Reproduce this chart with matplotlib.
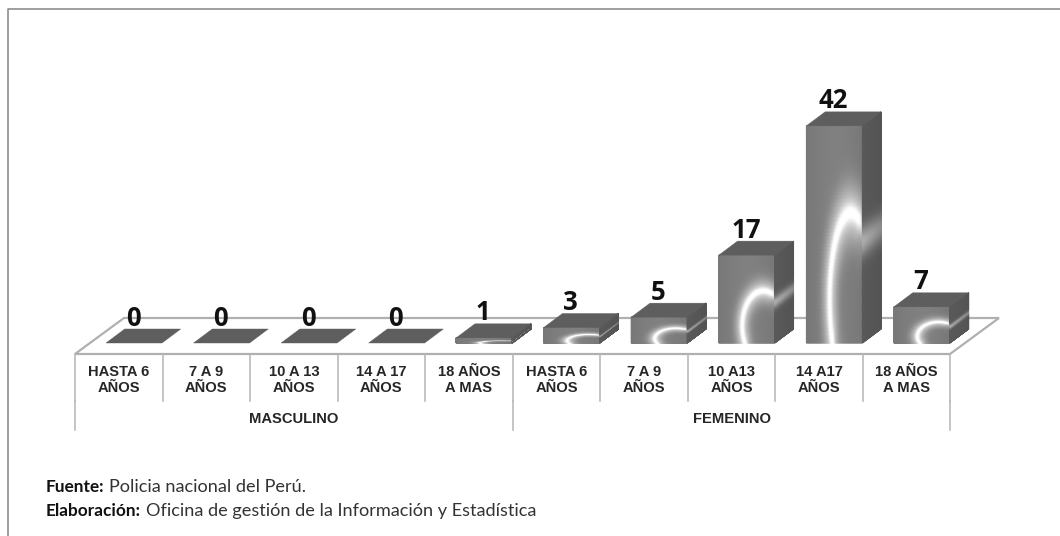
import numpy as np
import matplotlib
matplotlib.use("Agg")
import matplotlib.pyplot as plt
from matplotlib.patches import Polygon

categories = ["HASTA 6\nAÑOS", "7 A 9\nAÑOS", "10 A 13\nAÑOS", "14 A 17\nAÑOS", "18 AÑOS\nA MAS",
              "HASTA 6\nAÑOS", "7 A 9\nAÑOS", "10 A13\nAÑOS", "14 A17\nAÑOS", "18 AÑOS\nA MAS"]
values = [0, 0, 0, 0, 1, 3, 5, 17, 42, 7]
groups = ["MASCULINO", "FEMENINO"]
group_sizes = [5, 5]
source_bold = ["Fuente:", "Elaboración:"]
source_text = ["Policia nacional del Perú.", "Oficina de gestión de la Información y Estadística"]

W, H = 1060, 536
CAT_PX, UNIT_PX = 87.55, 5.17
X0_PX, Y0_PX = 75.0, 343.0


def px_x(p):
    return (p - X0_PX) / CAT_PX


def px_y(p):
    return (Y0_PX - p) / UNIT_PX


fig = plt.figure(figsize=(W / 100, H / 100), dpi=100)
ax = fig.add_axes([0, 0, 1, 1])
ax.set_xlim(px_x(0), px_x(W))
ax.set_ylim(px_y(H), px_y(0))
ax.axis("off")

DX = 18.7 / CAT_PX      # depth offset in x units
DY = 14.0 / UNIT_PX     # depth offset in y units
BAR_L = 31.0 / CAT_PX
BAR_W = 56.0 / CAT_PX
FLOOR_C = "#b0b0b0"
LABEL_C = "#262626"

# frame: only top and left edges are visible
ax.plot([px_x(7.5), px_x(7.5), px_x(W)], [px_y(H), px_y(8.5), px_y(8.5)],
        color="#8f8f8f", lw=1.2, zorder=1)

# floor
floor_x = [px_x(75), px_x(124), px_x(999), px_x(950)]
floor_y = [px_y(354), px_y(318), px_y(318), px_y(354)]
ax.add_patch(Polygon(np.c_[floor_x, floor_y], closed=True, fc="white", ec=FLOOR_C, lw=1.6, zorder=2))

# axis dividers
n = len(categories)
for i in range(n + 1):
    ax.plot([i, i], [px_y(354), px_y(401)], color="#b4b4b4", lw=1.1, zorder=2)
start = 0
for size, name in zip(group_sizes, groups):
    ax.plot([start, start], [px_y(401), px_y(430)], color="#b4b4b4", lw=1.1, zorder=2)
    ax.text(start + size / 2, px_y(419), name, ha="center", va="center", fontsize=10.6,
            fontweight="bold", family="Liberation Sans", color=LABEL_C, zorder=6)
    start += size
ax.plot([n, n], [px_y(401), px_y(430)], color="#b4b4b4", lw=1.1, zorder=2)

for i, lab in enumerate(categories):
    ax.text(i + 0.5, px_y(380), lab, ha="center", va="center", fontsize=10.6, linespacing=1.2,
            fontweight="bold", family="Liberation Sans", color=LABEL_C, zorder=6)

# shading helpers
u = np.linspace(0, 1, 90)
v = np.linspace(0, 1, 160)
U, V = np.meshgrid(u, v)
cmap = "gray"


def front_shade(U, V):
    d = np.sqrt(((U - 0.80) / 0.38) ** 2 + ((V - 0.20) / 0.40) ** 2)
    base = 120 + 8 * np.sin(np.pi * U)
    glow = np.where(d > 1, np.exp(-((d - 1) / 0.34) ** 2), np.exp(-((d - 1) / 0.36) ** 2))
    peak = np.exp(-((d - 1) / 0.11) ** 2)
    # ring fades away on its lower right part
    fade = np.clip((V - 0.05 + (0.8 - U) * 1.2) / 0.35, 0, 1)
    return np.clip(base + (85 * glow + 60 * peak) * fade, 0, 255)


def side_shade(U, V):
    b = np.exp(-((V - 0.47) / 0.07) ** 2)
    return 84 + 6 * (1 - U) + 85 * b * (1 - 0.35 * U)


for i, val in enumerate(values):
    left = i + BAR_L
    if val > 0:
        # front face
        X = left + U * BAR_W
        Y = V * val
        ax.pcolormesh(X, Y, front_shade(U, V), shading="gouraud", cmap=cmap, vmin=0, vmax=255, zorder=4)
        # side face
        Xs = left + BAR_W + U * DX
        Ys = V * val + U * DY
        ax.pcolormesh(Xs, Ys, side_shade(U, V), shading="gouraud", cmap=cmap, vmin=0, vmax=255, zorder=4)
    # top face
    top = np.array([[left, val], [left + BAR_W, val],
                    [left + BAR_W + DX, val + DY], [left + DX, val + DY]])
    ax.add_patch(Polygon(top, closed=True, fc="#5e5e5e", ec="#5e5e5e", lw=0.3, zorder=5))
    ax.text(left + BAR_W / 2 - 1 / CAT_PX, val + DY + 3.5 / UNIT_PX, str(val), ha="center", va="baseline",
            fontsize=18.5, fontweight="bold", family="Open Sans", color="#111111", zorder=7)

# source notes
fig.canvas.draw()
rend = fig.canvas.get_renderer()
for bold, rest, y in zip(source_bold, source_text, [492, 516]):
    t = ax.text(px_x(46), px_y(y), bold, ha="left", va="baseline", fontsize=12.4,
                fontweight="bold", family="Lato", color="#111111", zorder=7)
    bb = t.get_window_extent(rend)
    ax.text(px_x(bb.x1 + 5), px_y(y), rest, ha="left", va="baseline", fontsize=13.1,
            family="Lato", color="#333333", zorder=7)

fig.savefig("out.png", dpi=100)
